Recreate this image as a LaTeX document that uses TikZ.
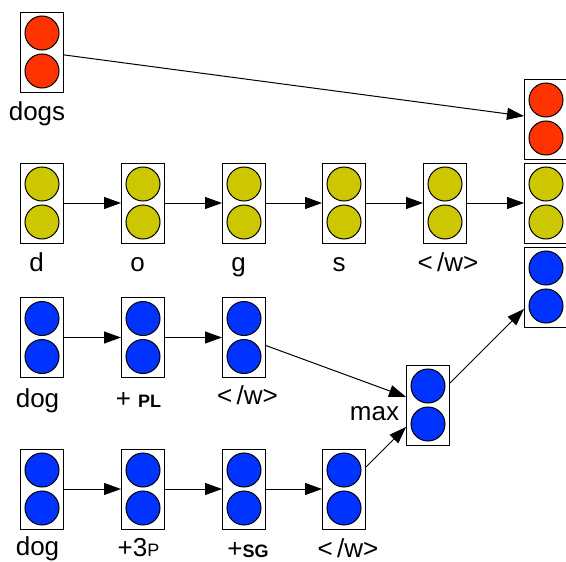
\documentclass[tikz,border=0pt]{standalone}
\usepackage{fontspec}
\setmainfont{Liberation Sans}
\usepackage{tikz}
\usetikzlibrary{arrows.meta}
\usepackage{color}
\definecolor{red}{HTML}{FF3300}
\definecolor{yellow}{HTML}{CCC700}
\definecolor{blue}{HTML}{0033FF}
\newcommand{\smallcap}[1]{{\fontsize{18}{20}\selectfont\bfseries #1}}
\newcommand{\eow}{<\,/w>}
\tikzset{
  unit/.style={draw, line width=1pt, fill=white, minimum width=43pt, minimum height=80pt, inner sep=0pt,
    path picture={
      \draw[line width=1pt,fill=#1] ([yshift=19pt]path picture bounding box.center) circle (17pt);
      \draw[line width=1pt,fill=#1] ([yshift=-19pt]path picture bounding box.center) circle (17pt);
    }},
  word/.style={anchor=base, inner sep=0pt, font=\fontsize{26}{30}\selectfont},
  link/.style={line width=1pt, -{Triangle[length=17pt,width=12pt]}},
}

\begin{document}
\begin{tikzpicture}[x=1pt,y=-1pt]
\useasboundingbox (0,0) rectangle (566,562);
% word vector
\node[unit=red] (dogs) at (42,52) {};
\node[word] (lbldogs) at (37,120) {dogs};
% characters
\node[unit=yellow] (c1) at (42,203) {};
\node[unit=yellow] (c2) at (143,203) {};
\node[unit=yellow] (c3) at (244,203) {};
\node[unit=yellow] (c4) at (344,203) {};
\node[unit=yellow] (c5) at (445,203) {};
\node[word] (lblc1) at (36.5,271) {d};
\node[word] (lblc2) at (137.5,271) {o};
\node[word] (lblc3) at (238.5,271) {g};
\node[word] (lblc4) at (339,271) {s};
\node[word] (lblc5) at (448,271) {\eow};
\draw[link] (c1) -- (c2);
\draw[link] (c2) -- (c3);
\draw[link] (c3) -- (c4);
\draw[link] (c4) -- (c5);
% first analysis
\node[unit=blue] (m1) at (42,337.5) {};
\node[unit=blue] (m2) at (143,337.5) {};
\node[unit=blue] (m3) at (244,337.5) {};
\node[word] (lblm1) at (37.5,407) {dog};
\node[word] (lblm2) at (138.5,407) {+ \smallcap{PL}};
\node[word] (lblm3) at (247.5,404) {\eow};
\draw[link] (m1) -- (m2);
\draw[link] (m2) -- (m3);
% second analysis
\node[unit=blue] (t1) at (42,489) {};
\node[unit=blue] (t2) at (143,489) {};
\node[unit=blue] (t3) at (244,489) {};
\node[unit=blue] (t4) at (344,489) {};
\node[word] (lblt1) at (37.5,555) {dog};
\node[word] (lblt2) at (138.5,556) {+3{\fontsize{18}{20}\selectfont P}};
\node[word] (lblt3) at (248,557) {+\smallcap{SG}};
\node[word] (lblt4) at (348,557) {\eow};
\draw[link] (t1) -- (t2);
\draw[link] (t2) -- (t3);
\draw[link] (t3) -- (t4);
% pooling
\node[unit=blue] (max) at (428,405) {};
\node[word] (lblmax) at (374.5,420) {max};
\draw[link] (m3) -- (max);
\draw[link] (t4) -- (max);
% concatenated output
\node[unit=red] (outred) at (546,119) {};
\node[unit=yellow] (outyellow) at (546,203) {};
\node[unit=blue] (outblue) at (546,287) {};
\draw[link] (dogs) -- (outred);
\draw[link] (c5) -- (outyellow);
\draw[link] (max) -- (outblue);
\end{tikzpicture}
\end{document}
